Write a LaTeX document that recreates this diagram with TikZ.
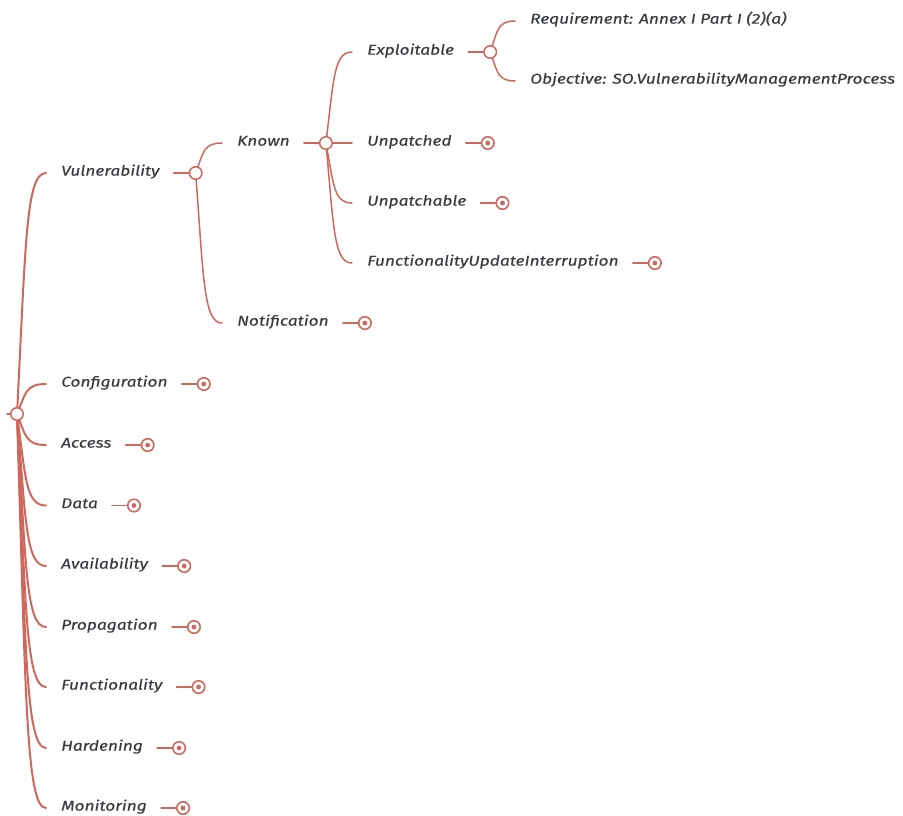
\documentclass[tikz,border=0pt]{standalone}
\usepackage{fontspec}
\setmainfont{Fira Sans}
\newfontfamily\topicfont[FakeStretch=1.22,FakeBold=0.35]{Fira Sans}
\usetikzlibrary{calc,backgrounds}
\definecolor{branch}{RGB}{206,104,92}
\definecolor{ink}{RGB}{56,60,66}
\tikzset{
  topic/.style={font=\topicfont\itshape\fontsize{14.2}{16}\selectfont, text=ink, inner sep=0pt, anchor=mid west},
  hub/.style={circle, draw=branch, line width=1.5pt, fill=white, minimum size=12.5pt, inner sep=0pt},
  fold/.style={circle, draw=branch, line width=1.6pt, fill=white, minimum size=12.5pt, inner sep=0pt,
    path picture={\fill[branch] (path picture bounding box.center) circle (2.4pt);}},
  link/.style={draw=branch, line width=1.5pt, line cap=round},
  trunk/.style={link, line width=2pt},
}
% curved branch: leaves the parent almost vertically, bends into the child's label
\newcommand\mmedge[3][link]{%
  \draw[#1] let \p1=(#2), \p2=([xshift=-15pt]#3.mid west) in
    (\p1) .. controls ({\x1+0.3*(\x2-\x1)},{\y1+0.7*(\y2-\y1)}) and ({\x1+0.3*(\x2-\x1)},\y2) .. (\p2);}
% expanded topic: short stub and an open hub circle
\newcommand\mmhub[1]{%
  \node[hub] (#1H) at ([xshift=36pt]#1.mid east) {};
  \draw[link] ([xshift=14pt]#1.mid east) -- (#1H);}
% collapsed topic: short stub and a dotted marker
\newcommand\mmfold[1]{%
  \node[fold] (#1F) at ([xshift=36pt]#1.mid east) {};
  \draw[link] ([xshift=14pt]#1.mid east) -- (#1F);}
\begin{document}
\begin{tikzpicture}[x=1pt,y=-1pt]
\useasboundingbox (0,0) rectangle (903,815);

% root
\coordinate (stub) at (7,414);
\node[hub] (root) at (17,414) {};

% first level
\node[topic] (vuln)   at (61,173)   {Vulnerability};
\node[topic] (conf)   at (61,384)   {Configuration};
\node[topic] (access) at (61,445)   {Access};
\node[topic] (data)   at (61,505.5) {Data};
\node[topic] (avail)  at (61,566)   {Availability};
\node[topic] (prop)   at (61,627)   {Propagation};
\node[topic] (func)   at (61,687)   {Functionality};
\node[topic] (hard)   at (61,748)   {Hardening};
\node[topic] (mon)    at (61,808)   {Monitoring};

% second level
\node[topic] (known) at (237,143) {Known};
\node[topic] (notif) at (237,323) {Notification};

% third level
\node[topic] (expl)   at (367,52)  {Exploitable};
\node[topic] (unpd)   at (367,143) {Unpatched};
\node[topic] (unpb)   at (367,203) {Unpatchable};
\node[topic] (fui)    at (367,263) {FunctionalityUpdateInterruption};

% fourth level
\node[topic] (req) at (530,21) {Requirement: Annex I Part I (2)(a)};
\node[topic] (obj) at (530,81) {Objective: SO.VulnerabilityManagementProcess};

% hubs of expanded topics
\mmhub{vuln}
\mmhub{known}
\mmhub{expl}

% markers of collapsed topics
\foreach \t in {conf,access,data,avail,prop,func,hard,mon,notif,unpd,unpb,fui}{\mmfold{\t}}

\begin{pgfonlayer}{background}
  \draw[link] (stub) -- (root);
  \foreach \t in {vuln,conf,access,data,avail,prop,func,hard,mon}{\mmedge[trunk]{root}{\t}}
  \foreach \t in {known,notif}{\mmedge{vulnH}{\t}}
  \foreach \t in {expl,unpd,unpb,fui}{\mmedge{knownH}{\t}}
  \foreach \t in {req,obj}{\mmedge{explH}{\t}}
\end{pgfonlayer}
\end{tikzpicture}
\end{document}
